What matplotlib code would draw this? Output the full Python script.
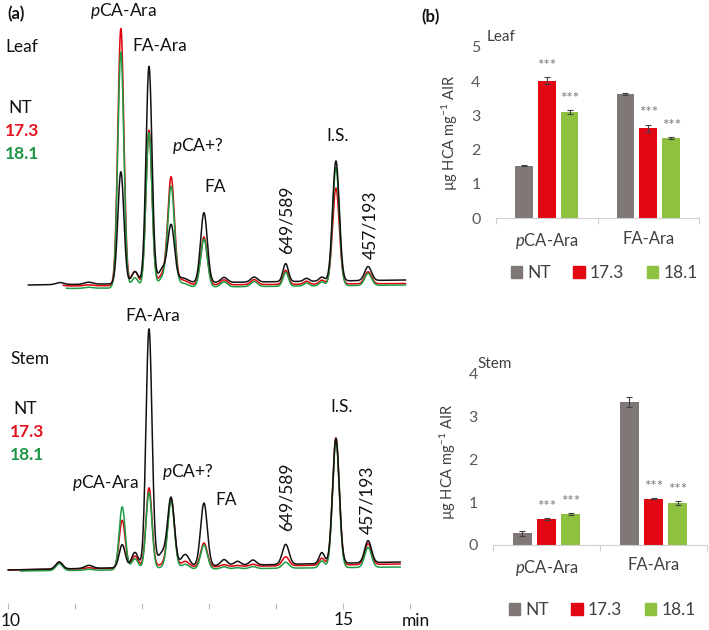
import numpy as np
import matplotlib.pyplot as plt
from matplotlib.patches import Patch

plt.rcParams["font.family"] = ["Lato", "DejaVu Sans"]
plt.rcParams["mathtext.fontset"] = "custom"
plt.rcParams["mathtext.rm"] = "Lato"
plt.rcParams["mathtext.it"] = "Lato:italic"

W, H = 709, 630

# ---- (a) chromatograms: peak tables (height in arbitrary units)
SAMPLES = ["NT", "17.3", "18.1"]

LEAF_PEAK_TIMES = [10.77, 11.20, 11.68, 11.89, 12.10, 12.30, 12.43, 12.60, 12.92,
                   13.22, 13.67, 14.14, 14.45, 14.68, 14.89, 15.37]
LEAF_PEAK_WIDTHS = [0.06, 0.06, 0.045, 0.05, 0.045, 0.06, 0.05, 0.08, 0.05,
                    0.05, 0.05, 0.04, 0.04, 0.04, 0.05, 0.05]
LEAF_NT = [2, 2, 112, 12, 217, 14, 57, 5, 70, 5, 5, 18, 3, 4, 120, 14]
LEAF_173 = [1, 1, 257, 14, 155, 10, 107, 5, 48, 5, 5, 14, 3, 4, 96, 12]
LEAF_181 = [1, 1, 236, 10, 155, 9, 100, 4, 48, 5, 5, 14, 3, 4, 118, 12]
LEAF_BASE = [(0, 5), (-1, 1.5), (-3.5, 0)]      # baseline level at start / end of run
LEAF_START = [10.30, 10.82, 10.87]
LEAF_END = 15.93

STEM_PEAK_TIMES = [10.76, 11.20, 11.70, 11.89, 12.10, 12.30, 12.43, 12.64, 12.92,
                   13.22, 13.42, 13.65, 14.14, 14.68, 14.89, 15.37]
STEM_PEAK_WIDTHS = [0.05, 0.06, 0.045, 0.05, 0.045, 0.07, 0.05, 0.06, 0.05,
                    0.05, 0.05, 0.05, 0.05, 0.04, 0.05, 0.05]
STEM_NT = [7, 3, 23, 15, 238, 14, 67, 12, 63, 6, 4, 5, 20, 11, 125, 22]
STEM_173 = [7, 1, 48, 12, 80, 3, 68, 6, 24, 2, 1, 2, 9, 7, 127, 21]
STEM_181 = [7, 1, 63, 11, 77, 2, 68, 5, 24, 2, 1, 2, 6, 7, 127, 20]
STEM_BASE = [(0, 8), (0, 6), (-1, 3)]
STEM_START = [10.0, 10.0, 10.18]
STEM_END = 15.85

# ---- (b) bar data (µg HCA / mg AIR)
CATEGORIES = ["$\\mathit{p}$CA-Ara", "FA-Ara"]
LEAF_MEANS = {"NT": [1.53, 3.63], "17.3": [4.01, 2.62], "18.1": [3.09, 2.33]}
LEAF_ERR = {"NT": [0.02, 0.03], "17.3": [0.10, 0.11], "18.1": [0.06, 0.03]}
STEM_MEANS = {"NT": [0.27, 3.33], "17.3": [0.60, 1.08], "18.1": [0.72, 0.97]}
STEM_ERR = {"NT": [0.05, 0.11], "17.3": [0.02, 0.02], "18.1": [0.02, 0.05]}
SIGNIF = {"NT": ["", ""], "17.3": ["***", "***"], "18.1": ["***", "***"]}

TRACE_COLORS = {"NT": "#111111", "17.3": "#e0000b", "18.1": "#1f9d45"}
LABEL_COLORS = {"NT": "#111111", "17.3": "#e0141e", "18.1": "#1e9646"}
BAR_COLORS = {"NT": "#7f7877", "17.3": "#e30613", "18.1": "#8dc13f"}

fig = plt.figure(figsize=(W / 100, H / 100), dpi=100)


def px_axes(left, top, right, bottom):
    return fig.add_axes([left / W, 1 - bottom / H, (right - left) / W, (bottom - top) / H])


def ftext(x, y, s, **kw):
    kw.setdefault("va", "center")
    kw.setdefault("fontsize", 12.5)
    kw.setdefault("color", "#111111")
    return fig.text(x / W, 1 - y / H, s, **kw)


t = np.arange(9.9, 16.1, 0.002)


def trace(times, widths, heights, base, t0, t1):
    y = base[0] + (base[1] - base[0]) * (t - t0) / (t1 - t0)
    for tc, w, h in zip(times, widths, heights):
        y = y + h * np.exp(-0.5 * ((t - tc) / w) ** 2)
    m = (t >= t0) & (t <= t1)
    return t[m], y[m]


def draw_chrom(ax, times, widths, tables, bases, starts, end):
    order = [1, 2, 0]  # red below green below black
    for k in order:
        name = SAMPLES[k]
        x, y = trace(times, widths, tables[k], bases[k], starts[k], end)
        ax.plot(x, y, color=TRACE_COLORS[name], lw=1.1, zorder=2 + order.index(k))


xlim = (10 - 8.3 / 67, 10 + (420 - 8.3) / 67)

ax_top = px_axes(0, 0, 420, 300)
draw_chrom(ax_top, LEAF_PEAK_TIMES, LEAF_PEAK_WIDTHS, [LEAF_NT, LEAF_173, LEAF_181],
           LEAF_BASE, LEAF_START, LEAF_END)
ax_top.set_xlim(*xlim)
ax_top.set_ylim(-15, 285)
ax_top.axis("off")

ax_bot = px_axes(0, 300, 420, 603)
draw_chrom(ax_bot, STEM_PEAK_TIMES, STEM_PEAK_WIDTHS, [STEM_NT, STEM_173, STEM_181],
           STEM_BASE, STEM_START, STEM_END)
ax_bot.set_xlim(*xlim)
ax_bot.set_ylim(-33, 270)
for s in ax_bot.spines.values():
    s.set_visible(False)
ax_bot.set_yticks([])
ax_bot.set_xticks(np.arange(10, 17))
ax_bot.set_xticklabels(["", "", "", "", "", "15", ""])
ax_bot.tick_params(axis="x", length=4, width=0.8, color="#bbbbbb", pad=2.5,
                   labelsize=12.5, labelcolor="#111111")
ftext(1, 621, "10", ha="left")
ftext(402, 621, "min")

# chromatogram labels
PA = "$\\mathit{p}$"
ftext(7, 14, "(a)", fontweight="bold", fontsize=12)
ftext(123, 11, PA + "CA-Ara", ha="center")
ftext(5, 47, "Leaf")
ftext(132, 46, "FA-Ara")
ftext(172, 146, PA + "CA+?")
ftext(204, 187, "FA")
ftext(287, 220, "649/589", rotation=90, ha="center")
ftext(326, 136, "I.S.")
ftext(370, 225, "457/193", rotation=90, ha="center")
ftext(153, 316, "FA-Ara", ha="center")
ftext(10, 359, "Stem")
ftext(72, 483, PA + "CA-Ara")
ftext(162, 472, PA + "CA+?")
ftext(215, 500, "FA")
ftext(287, 497, "649/589", rotation=90, ha="center")
ftext(330, 407, "I.S.")
ftext(367, 500, "457/193", rotation=90, ha="center")
for (x0, y0) in [(5, 108), (10, 409)]:
    ftext(x0 + 3, y0, "NT")
    ftext(x0, y0 + 23, "17.3", color=LABEL_COLORS["17.3"], fontweight="bold")
    ftext(x0, y0 + 46, "18.1", color=LABEL_COLORS["18.1"], fontweight="bold")


# ---- (b) bars
def draw_bars(ax, means, errs, ymax, legend_xy):
    width, step = 0.174, 0.225
    x = np.arange(len(CATEGORIES))
    for i, name in enumerate(SAMPLES):
        xs = x + (i - 1) * step
        ax.bar(xs, means[name], width=width, color=BAR_COLORS[name], yerr=errs[name],
               capsize=2.5, error_kw=dict(ecolor="#404040", elinewidth=0.8, capthick=0.8))
        for xi, v, e, s in zip(xs, means[name], errs[name], SIGNIF[name]):
            if s:
                ax.annotate(s, (xi, v + e), xytext=(0, 8), textcoords="offset points",
                            ha="center", va="center", color="#7a7a7a", fontsize=11)
    ax.set_xlim(-0.5, len(CATEGORIES) - 0.5)
    ax.set_ylim(0, ymax)
    ax.set_yticks(np.arange(0, ymax + 1))
    for side in ["left", "top", "right"]:
        ax.spines[side].set_visible(False)
    ax.spines["bottom"].set_color("#d0d0d0")
    ax.tick_params(axis="y", length=0, pad=11, labelsize=11.5, labelcolor="#595959")
    ax.set_xticks(x)
    ax.set_xticklabels(CATEGORIES)
    ax.set_xticks(np.arange(-0.5, len(CATEGORIES)), minor=True)
    ax.tick_params(axis="x", which="major", length=0, pad=9, labelsize=12, labelcolor="#404040")
    ax.tick_params(axis="x", which="minor", length=4, width=0.8, color="#d0d0d0")
    handles = [Patch(color=BAR_COLORS[n]) for n in SAMPLES]
    ax.legend(handles, SAMPLES, ncol=3, loc="center",
              bbox_to_anchor=(legend_xy[0] / W, 1 - legend_xy[1] / H),
              bbox_transform=fig.transFigure, frameon=False, fontsize=12.5,
              handlelength=0.65, handleheight=0.65, handletextpad=0.3,
              columnspacing=1.3, labelcolor="#404040")


ax_leaf = px_axes(495.9, 46.7, 699.1, 218.3)
draw_bars(ax_leaf, LEAF_MEANS, LEAF_ERR, 5, (604, 273))
ax_stem = px_axes(493, 373, 707, 545)
draw_bars(ax_stem, STEM_MEANS, STEM_ERR, 4, (602, 610))

YLAB = "µg HCA mg$^{-1}$ AIR"
ftext(421, 17, "(b)", fontweight="bold", fontsize=12)
ftext(450, 133, YLAB, rotation=90, ha="center", fontsize=10.5, color="#404040")
ftext(448, 462, YLAB, rotation=90, ha="center", fontsize=10.5, color="#404040")
ftext(487, 37, "Leaf", fontsize=11, color="#404040")
ftext(477, 364, "Stem", fontsize=11, color="#404040")

fig.savefig("out.png", dpi=100)
